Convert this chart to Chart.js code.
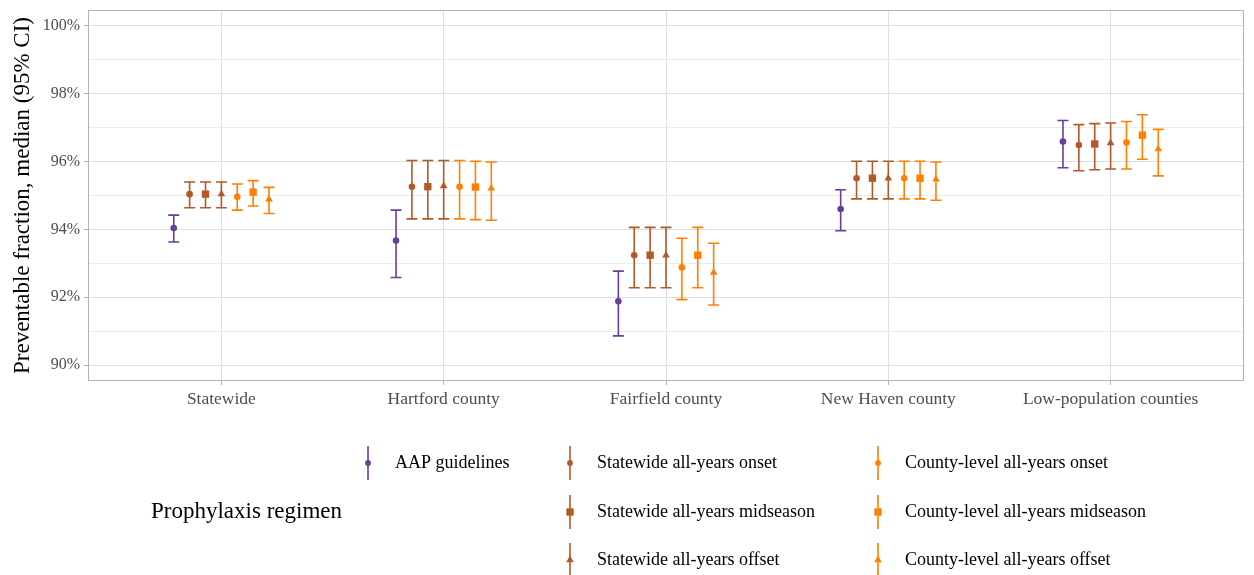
<!DOCTYPE html>
<html>
<head>
<meta charset="utf-8">
<script src="https://cdn.jsdelivr.net/npm/chart.js@4/dist/chart.umd.min.js"></script>
<style>
    html, body { margin: 0; padding: 0; background: #fff; }
</style>
</head>
<body>
<canvas id="myChart" width="1254" height="575"></canvas>
<script>
'use strict';

let categories = ['Statewide', 'Hartford county', 'Fairfield county', 'New Haven county', 'Low-population counties'];
let seriesNames = ['AAP guidelines', 'Statewide all-years onset', 'Statewide all-years midseason', 'Statewide all-years offset',
    'County-level all-years onset', 'County-level all-years midseason', 'County-level all-years offset'];
let seriesColors = ['#6a3d9a', '#b15928', '#b15928', '#b15928', '#ff7f00', '#ff7f00', '#ff7f00'];
let seriesShapes = ['circle', 'circle', 'rect', 'triangle', 'circle', 'rect', 'triangle'];
let yTicks = [90, 91, 92, 93, 94, 95, 96, 97, 98, 99, 100];

// median, lower and upper 95% CI per series, one value per category
let aapMid = [94.04, 93.67, 91.88, 94.60, 96.59];
let aapLow = [93.63, 92.58, 90.86, 93.96, 95.82];
let aapHigh = [94.42, 94.57, 92.77, 95.17, 97.21];

let swOnsetMid = [95.04, 95.26, 93.24, 95.51, 96.49];
let swOnsetLow = [94.64, 94.31, 92.28, 94.90, 95.73];
let swOnsetHigh = [95.40, 96.03, 94.06, 96.01, 97.09];

let swMidMid = [95.04, 95.26, 93.24, 95.51, 96.52];
let swMidLow = [94.64, 94.31, 92.28, 94.90, 95.76];
let swMidHigh = [95.40, 96.03, 94.06, 96.01, 97.12];

let swOffMid = [95.04, 95.28, 93.24, 95.51, 96.55];
let swOffLow = [94.64, 94.31, 92.28, 94.90, 95.78];
let swOffHigh = [95.40, 96.03, 94.06, 96.01, 97.14];

let coOnsetMid = [94.96, 95.26, 92.88, 95.51, 96.56];
let coOnsetLow = [94.57, 94.31, 91.93, 94.90, 95.78];
let coOnsetHigh = [95.34, 96.03, 93.74, 96.01, 97.18];

let coMidMid = [95.10, 95.25, 93.24, 95.51, 96.78];
let coMidLow = [94.69, 94.29, 92.28, 94.90, 96.07];
let coMidHigh = [95.44, 96.01, 94.06, 96.01, 97.38];

let coOffMid = [94.89, 95.21, 92.73, 95.48, 96.37];
let coOffLow = [94.47, 94.27, 91.77, 94.86, 95.58];
let coOffHigh = [95.24, 95.99, 93.59, 95.99, 96.95];

let mids = [aapMid, swOnsetMid, swMidMid, swOffMid, coOnsetMid, coMidMid, coOffMid];
let lows = [aapLow, swOnsetLow, swMidLow, swOffLow, coOnsetLow, coMidLow, coOffLow];
let highs = [aapHigh, swOnsetHigh, swMidHigh, swOffHigh, coOnsetHigh, coMidHigh, coOffHigh];

let fontFamily = '"Liberation Serif", "DejaVu Serif", serif';
let dodge = 0.5 / 7;

function pointRadius(shape) {
    if (shape === 'rect') return 5.2;
    if (shape === 'triangle') return 4.4;
    return 3.3;
}

let datasets = [];
for (let s = 0; s < seriesNames.length; s++) {
    let pts = [];
    for (let i = 0; i < categories.length; i++) {
        pts.push({ x: i + 1 + (s - 3) * dodge, y: mids[s][i], lo: lows[s][i], hi: highs[s][i] });
    }
    datasets.push({
        label: seriesNames[s],
        data: pts,
        pointStyle: seriesShapes[s],
        pointRadius: pointRadius(seriesShapes[s]),
        pointBackgroundColor: seriesColors[s],
        pointBorderColor: seriesColors[s],
        pointBorderWidth: 0,
        showLine: false
    });
}

function drawShape(ctx, shape, x, y, r) {
    ctx.beginPath();
    if (shape === 'rect') {
        let h = r * Math.SQRT1_2;
        ctx.rect(x - h, y - h, 2 * h, 2 * h);
    } else if (shape === 'triangle') {
        ctx.moveTo(x, y - r);
        ctx.lineTo(x + r * 0.866, y + r * 0.5);
        ctx.lineTo(x - r * 0.866, y + r * 0.5);
        ctx.closePath();
    } else {
        ctx.arc(x, y, r, 0, Math.PI * 2);
    }
    ctx.fill();
}

let panelAndBars = {
    id: 'panelAndBars',
    beforeDatasetsDraw(chart) {
        let ctx = chart.ctx;
        let area = chart.chartArea;
        let xs = chart.scales.x;
        let ys = chart.scales.y;
        ctx.save();
        ctx.strokeStyle = '#b3b3b3';
        ctx.lineWidth = 1;
        ctx.strokeRect(area.left + 0.5, area.top + 0.5, area.right - area.left - 1, area.bottom - area.top - 1);
        ctx.lineWidth = 1.6;
        for (let d = 0; d < chart.data.datasets.length; d++) {
            let ds = chart.data.datasets[d];
            ctx.strokeStyle = seriesColors[d];
            for (let p of ds.data) {
                let x = xs.getPixelForValue(p.x);
                let yl = ys.getPixelForValue(p.lo);
                let yh = ys.getPixelForValue(p.hi);
                ctx.beginPath();
                ctx.moveTo(x, yl);
                ctx.lineTo(x, yh);
                ctx.moveTo(x - 5.5, yl);
                ctx.lineTo(x + 5.5, yl);
                ctx.moveTo(x - 5.5, yh);
                ctx.lineTo(x + 5.5, yh);
                ctx.stroke();
            }
        }
        ctx.restore();
    },
    afterDraw(chart) {
        let ctx = chart.ctx;
        let keyX = [368, 570, 878];
        let rowY = [463, 512, 560];
        let slots = [[0, 0], [1, 0], [1, 1], [1, 2], [2, 0], [2, 1], [2, 2]];
        ctx.save();
        ctx.fillStyle = '#000';
        ctx.textBaseline = 'middle';
        ctx.textAlign = 'left';
        ctx.font = '23px ' + fontFamily;
        ctx.fillText('Prophylaxis regimen', 151, 512);
        ctx.font = '18px ' + fontFamily;
        for (let s = 0; s < seriesNames.length; s++) {
            let x = keyX[slots[s][0]];
            let y = rowY[slots[s][1]];
            ctx.strokeStyle = seriesColors[s];
            ctx.fillStyle = seriesColors[s];
            ctx.lineWidth = 1.6;
            ctx.beginPath();
            ctx.moveTo(x, y - 17);
            ctx.lineTo(x, y + 17);
            ctx.stroke();
            drawShape(ctx, seriesShapes[s], x, y, seriesShapes[s] === 'circle' ? 2.9 : pointRadius(seriesShapes[s]));
            ctx.fillStyle = '#000';
            ctx.fillText(seriesNames[s], x + 27, y);
        }
        ctx.restore();
    }
};

let ctx = document.getElementById('myChart').getContext('2d');
let myChart = new Chart(ctx, {
    type: 'scatter',
    data: { datasets: datasets },
    plugins: [panelAndBars],
    options: {
        responsive: false,
        devicePixelRatio: 1,
        animation: false,
        events: [],
        layout: { padding: { top: 10, right: 10, bottom: 154, left: 0 } },
        plugins: {
            legend: { display: false },
            tooltip: { enabled: false }
        },
        scales: {
            x: {
                type: 'linear',
                min: 0.4,
                max: 5.6,
                afterBuildTicks: function (scale) {
                    scale.ticks = categories.map((c, i) => ({ value: i + 1 }));
                },
                afterFit: function (scale) {
                    scale.height = 40;
                    scale.paddingLeft = 0;
                    scale.paddingRight = 0;
                },
                ticks: {
                    autoSkip: false,
                    maxRotation: 0,
                    padding: 4,
                    color: '#4d4d4d',
                    font: { family: fontFamily, size: 17.5 },
                    callback: function (v) { return categories[Math.round(v) - 1]; }
                },
                grid: { color: '#dedede', tickColor: '#b3b3b3', tickLength: 4 },
                border: { display: false }
            },
            y: {
                min: 89.53,
                max: 100.47,
                afterBuildTicks: function (scale) {
                    scale.ticks = yTicks.map(v => ({ value: v }));
                },
                afterFit: function (scale) {
                    scale.width = 88;
                    scale.paddingTop = 0;
                    scale.paddingBottom = 0;
                },
                ticks: {
                    padding: 4,
                    color: '#4d4d4d',
                    font: { family: fontFamily, size: 16 },
                    callback: function (v) { return v % 2 === 0 ? v + '%' : ''; }
                },
                grid: {
                    color: c => (c.tick && c.tick.value % 2 === 0) ? '#dedede' : '#ececec',
                    tickColor: c => (c.tick && c.tick.value % 2 === 0) ? '#b3b3b3' : 'rgba(0,0,0,0)',
                    tickLength: 4
                },
                border: { display: false },
                title: {
                    display: true,
                    text: 'Preventable fraction, median (95% CI)',
                    color: '#000',
                    font: { family: fontFamily, size: 23 },
                    padding: { top: 9, bottom: 0 }
                }
            }
        }
    }
});
</script>
</body>
</html>
